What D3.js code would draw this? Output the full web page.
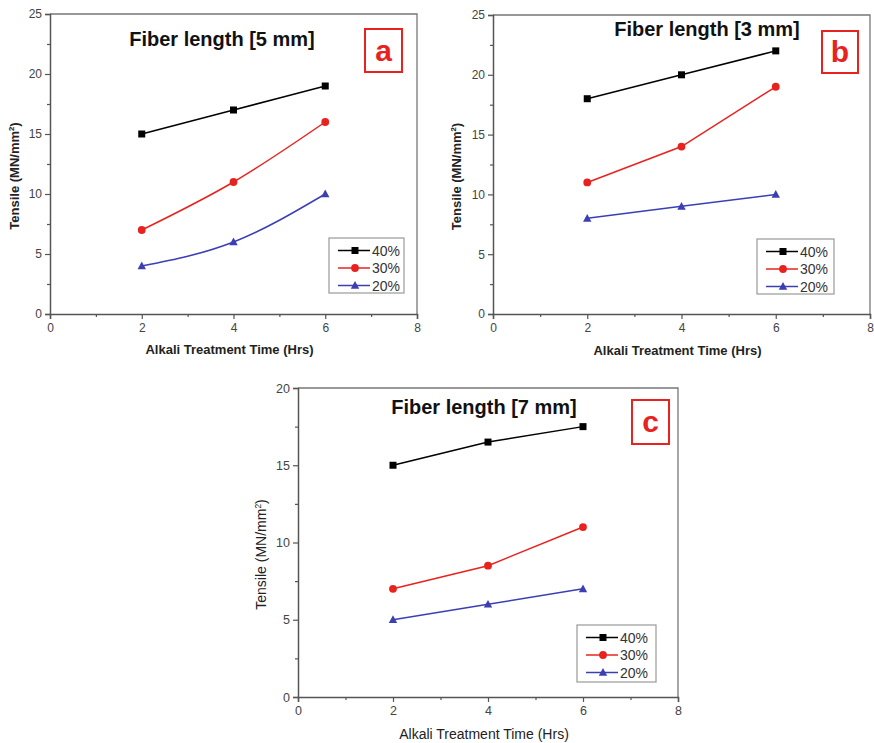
<!DOCTYPE html>
<html>
<head>
<meta charset="utf-8">
<script src="https://cdn.jsdelivr.net/npm/d3@7"></script>
<style>
  html, body { margin: 0; padding: 0; background: #fff; }
  svg { display: block; font-family: "Liberation Sans", Arial, sans-serif; }
</style>
</head>
<body>
<svg id="chart" width="874" height="743"></svg>
<script>
// Treatment times (hours) shared by every panel
const times = [2, 4, 6];
const seriesNames = ["40%", "30%", "20%"];
const seriesColors = ["#000000", "#e8231f", "#3b3fb3"];
const seriesShapes = ["square", "circle", "triangle"];

// Tensile strength (MN/mm²) for fiber length 5 mm
const tensile5mm_40 = [15, 17, 19];
const tensile5mm_30 = [7, 11, 16];
const tensile5mm_20 = [4, 6, 10];

// Tensile strength (MN/mm²) for fiber length 3 mm
const tensile3mm_40 = [18, 20, 22];
const tensile3mm_30 = [11, 14, 19];
const tensile3mm_20 = [8, 9, 10];

// Tensile strength (MN/mm²) for fiber length 7 mm
const tensile7mm_40 = [15, 16.5, 17.5];
const tensile7mm_30 = [7, 8.5, 11];
const tensile7mm_20 = [5, 6, 7];

const xTicks = [0, 2, 4, 6, 8];
const yTicks25 = [0, 5, 10, 15, 20, 25];
const yTicks20 = [0, 5, 10, 15, 20];

const panels = [
  { title: "Fiber length [5 mm]", tag: "a", series: [tensile5mm_40, tensile5mm_30, tensile5mm_20],
    yMax: 25, yTicks: yTicks25, smooth: true, boldLabels: true,
    box: { l: 50, r: 417, t: 14, b: 314 },
    titlePos: [222, 46], tagBox: [365, 29, 37, 43],
    legend: [329, 238, 75, 55], xLabelY: 354, yLabelX: 19, labelSize: 13, tickSize: 12 },
  { title: "Fiber length [3 mm]", tag: "b", series: [tensile3mm_40, tensile3mm_30, tensile3mm_20],
    yMax: 25, yTicks: yTicks25, smooth: false, boldLabels: true,
    box: { l: 493, r: 870, t: 15, b: 314 },
    titlePos: [707, 36], tagBox: [822, 31, 36, 42],
    legend: [757, 239, 77, 55], xLabelY: 355, yLabelX: 461, labelSize: 13, tickSize: 12 },
  { title: "Fiber length [7 mm]", tag: "c", series: [tensile7mm_40, tensile7mm_30, tensile7mm_20],
    yMax: 20, yTicks: yTicks20, smooth: false, boldLabels: false,
    box: { l: 298, r: 678, t: 388, b: 697 },
    titlePos: [484, 414], tagBox: [632, 400, 37, 44],
    legend: [577, 625, 79, 57], xLabelY: 739, yLabelX: 266, labelSize: 14, tickSize: 12.5 }
];

const svg = d3.select("#chart");

function drawMarker(g, shape, x, y, color, s) {
  if (shape === "square") {
    g.append("rect").attr("x", x - s / 2).attr("y", y - s / 2)
      .attr("width", s).attr("height", s).attr("fill", color);
  } else if (shape === "circle") {
    g.append("circle").attr("cx", x).attr("cy", y).attr("r", s / 2 + 0.4).attr("fill", color);
  } else {
    const h = s * 1.05;
    g.append("path")
      .attr("d", `M${x},${y - h * 0.6}L${x + s * 0.6},${y + h * 0.45}L${x - s * 0.6},${y + h * 0.45}Z`)
      .attr("fill", color);
  }
}

panels.forEach(p => {
  const g = svg.append("g");
  const x = d3.scaleLinear().domain([0, 8]).range([p.box.l, p.box.r]);
  const y = d3.scaleLinear().domain([0, p.yMax]).range([p.box.b, p.box.t]);
  const axisColor = "#555";

  // Frame (top and right edges)
  g.append("path")
    .attr("d", `M${p.box.l},${p.box.t}H${p.box.r}V${p.box.b}`)
    .attr("fill", "none").attr("stroke", "#777").attr("stroke-width", 1.3);

  // Bottom axis with major and minor ticks
  const xAxis = g.append("g").attr("transform", `translate(0,${p.box.b})`)
    .call(d3.axisBottom(x).tickValues(xTicks).tickSize(5).tickPadding(4).tickFormat(d3.format("d")));
  const xMinor = g.append("g").attr("transform", `translate(0,${p.box.b})`)
    .call(d3.axisBottom(x).tickValues([1, 3, 5, 7]).tickSize(3).tickFormat(""));
  xMinor.select(".domain").remove();

  // Left axis with major and minor ticks
  const yAxis = g.append("g").attr("transform", `translate(${p.box.l},0)`)
    .call(d3.axisLeft(y).tickValues(p.yTicks).tickSize(5).tickPadding(3).tickFormat(d3.format("d")));
  const minorY = p.yTicks.slice(0, -1).map(v => v + 2.5);
  const yMinor = g.append("g").attr("transform", `translate(${p.box.l},0)`)
    .call(d3.axisLeft(y).tickValues(minorY).tickSize(3).tickFormat(""));
  yMinor.select(".domain").remove();

  [xAxis, yAxis, xMinor, yMinor].forEach(a => {
    a.selectAll("path.domain").attr("stroke", axisColor).attr("stroke-width", 1.5);
    a.selectAll(".tick line").attr("stroke", axisColor).attr("stroke-width", 1.2);
    a.selectAll(".tick text").attr("fill", "#444").attr("font-size", p.tickSize)
      .attr("font-family", "'Liberation Sans', Arial, sans-serif");
  });

  // Axis titles
  g.append("text")
    .attr("x", (p.box.l + p.box.r) / 2 - 4).attr("y", p.xLabelY)
    .attr("text-anchor", "middle").attr("font-size", p.labelSize)
    .attr("font-weight", p.boldLabels ? "bold" : "normal").attr("fill", "#222")
    .text("Alkali Treatment Time (Hrs)");

  const yl = g.append("text")
    .attr("transform", `translate(${p.yLabelX},${(p.box.t + p.box.b) / 2 + 12}) rotate(-90)`)
    .attr("text-anchor", "middle").attr("font-size", p.labelSize)
    .attr("font-weight", p.boldLabels ? "bold" : "normal").attr("fill", "#222");
  yl.append("tspan").text("Tensile (MN/mm");
  yl.append("tspan").attr("font-size", p.labelSize * 0.6).attr("dy", -5).text("2");
  yl.append("tspan").attr("dy", 5).text(")");

  // Series lines and markers
  const line = d3.line()
    .x((d, i) => x(times[i])).y(d => y(d))
    .curve(p.smooth ? d3.curveNatural : d3.curveLinear);

  p.series.forEach((vals, si) => {
    g.append("path").datum(vals).attr("d", line)
      .attr("fill", "none").attr("stroke", seriesColors[si]).attr("stroke-width", 1.5);
    vals.forEach((v, i) => drawMarker(g, seriesShapes[si], x(times[i]), y(v), seriesColors[si], 7));
  });

  // Panel title
  g.append("text")
    .attr("x", p.titlePos[0]).attr("y", p.titlePos[1])
    .attr("text-anchor", "middle").attr("font-size", 20).attr("font-weight", "bold")
    .attr("fill", "#111").text(p.title);

  // Panel tag in red box
  const [tx, ty, tw, th] = p.tagBox;
  g.append("rect").attr("x", tx).attr("y", ty).attr("width", tw).attr("height", th)
    .attr("fill", "#fff").attr("stroke", "#e8231f").attr("stroke-width", 2);
  g.append("text").attr("x", tx + tw / 2).attr("y", ty + th / 2 + 10)
    .attr("text-anchor", "middle").attr("font-size", 30).attr("font-weight", "bold")
    .attr("fill", "#e8231f").text(p.tag);

  // Legend
  const [lx, ly, lw, lh] = p.legend;
  const lg = g.append("g");
  lg.append("rect").attr("x", lx).attr("y", ly).attr("width", lw).attr("height", lh)
    .attr("fill", "#fff").attr("stroke", "#999").attr("stroke-width", 1.2);
  seriesNames.forEach((name, si) => {
    const cy = ly + 12.5 + si * 17.5;
    lg.append("line").attr("x1", lx + 9).attr("x2", lx + 41).attr("y1", cy).attr("y2", cy)
      .attr("stroke", seriesColors[si]).attr("stroke-width", 1.5);
    drawMarker(lg, seriesShapes[si], lx + 26, cy, seriesColors[si], 7);
    lg.append("text").attr("x", lx + 43).attr("y", cy + 5)
      .attr("font-size", 14).attr("fill", "#333").text(name);
  });
});
</script>
</body>
</html>
